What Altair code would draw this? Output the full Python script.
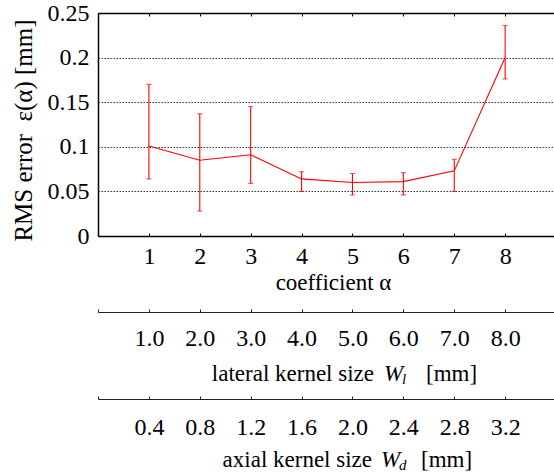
import altair as alt
import pandas as pd

# ---- data ----
alpha = [1, 2, 3, 4, 5, 6, 7, 8]
rms_error = [0.101, 0.085, 0.091, 0.064, 0.060, 0.061, 0.073, 0.200]
err_low = [0.064, 0.028, 0.059, 0.050, 0.046, 0.046, 0.050, 0.176]
err_high = [0.170, 0.137, 0.145, 0.072, 0.070, 0.071, 0.086, 0.236]
lateral_size = [1.0, 2.0, 3.0, 4.0, 5.0, 6.0, 7.0, 8.0]
axial_size = [0.4, 0.8, 1.2, 1.6, 2.0, 2.4, 2.8, 3.2]
y_tick_values = [0, 0.05, 0.1, 0.15, 0.2, 0.25]
lateral_ticks = [0.0] + lateral_size + [9.0]
axial_ticks = [0.0] + axial_size + [3.6]

x_title = "coefficient α"
y_title = "RMS error\u2002ε(α) [mm]"
lateral_title = ["lateral kernel size", "W", "l", "[mm]"]
axial_title = ["axial kernel size", "W", "d", "[mm]"]

FONT = "Liberation Serif"
RED = "#ff0000"
FS_LAB = 24
FS_TIT = 23
FS_YT = 25

X_MAX = 8.96
W, H = 456, 223

df = pd.DataFrame({
    "alpha": alpha, "rms": rms_error, "lo": err_low, "hi": err_high,
    "lateral": lateral_size, "axial": axial_size,
})
base = alt.Chart(df)

ys = alt.Scale(domain=[0, 0.25], nice=False, zero=False)


def xs(maxv):
    return alt.Scale(domain=[0, maxv], nice=False, zero=False)


y_axis = alt.Axis(
    values=y_tick_values, grid=True, gridColor="#000000", gridDash=[1.5, 1.5],
    gridWidth=0.8, gridOpacity=1, ticks=False, tickSize=0, domain=True,
    domainColor="#000000", domainWidth=1.5, labelPadding=9, labelFontSize=FS_LAB,
    labelFont=FONT, labelColor="#000000", format="~g", labelOverlap=False,
    title=y_title, titleFont=FONT, titleFontSize=FS_YT, titleFontWeight="normal",
    titleColor="#000000", titleAngle=270, titleX=-67, titleY=117,
    titleBaseline="alphabetic", titleAlign="center",
)

main_x_axis = alt.Axis(
    orient="bottom", values=alpha, domain=True, domainColor="#000000",
    domainWidth=1.5, ticks=False, tickSize=0, grid=False, labelPadding=27,
    labelBaseline="alphabetic", labelFont=FONT, labelFontSize=FS_LAB,
    labelColor="#000000", labelOverlap=False, labelFlush=False,
    title=x_title, titleFont=FONT, titleFontSize=FS_TIT, titleFontWeight="normal",
    titleColor="#000000", titleX=235, titleY=53, titleBaseline="alphabetic",
    titleAlign="center",
)

line = base.mark_line(color=RED, strokeWidth=1.1).encode(
    x=alt.X("alpha:Q", scale=xs(X_MAX), axis=main_x_axis),
    y=alt.Y("rms:Q", scale=ys, axis=y_axis),
)

bars = base.mark_rule(color=RED, strokeWidth=1.1).encode(
    x=alt.X("alpha:Q", scale=xs(X_MAX), axis=None),
    y=alt.Y("lo:Q", scale=ys),
    y2="hi:Q",
)
cap_lo = base.mark_tick(color=RED, orient="horizontal", size=5, thickness=1.1).encode(
    x=alt.X("alpha:Q", scale=xs(X_MAX), axis=None),
    y=alt.Y("lo:Q", scale=ys),
)
cap_hi = base.mark_tick(color=RED, orient="horizontal", size=5, thickness=1.1).encode(
    x=alt.X("alpha:Q", scale=xs(X_MAX), axis=None),
    y=alt.Y("hi:Q", scale=ys),
)


def axis_layer(field, maxv, axis):
    return base.mark_point(opacity=0).encode(
        x=alt.X(f"{field}:Q", scale=xs(maxv), axis=axis)
    )


# inner tick marks of the frame (bottom and top)
inner_bottom = axis_layer("alpha", X_MAX, alt.Axis(
    orient="bottom", offset=-3, values=alpha, domain=False, ticks=True,
    tickSize=3, tickColor="#000000", tickWidth=1, labels=False, grid=False,
    title=None))
top_domain = axis_layer("alpha", X_MAX, alt.Axis(
    orient="top", offset=0, domain=True, domainColor="#000000",
    domainWidth=1.5, ticks=False, tickSize=0, labels=False, grid=False,
    title=None))
inner_top = axis_layer("alpha", X_MAX, alt.Axis(
    orient="top", offset=-3, values=alpha, domain=False, ticks=True,
    tickSize=3, tickColor="#000000", tickWidth=1, labels=False, grid=False,
    title=None))


def extra_axis(field, maxv, offset, values, tickvals, pad):
    lab = axis_layer(field, maxv, alt.Axis(
        orient="bottom", offset=offset, values=values, format=".1f",
        domain=True, domainColor="#222222", domainWidth=1, ticks=False,
        tickSize=0, grid=False, labelPadding=pad, labelBaseline="alphabetic",
        labelFont=FONT, labelFontSize=FS_LAB, labelColor="#000000",
        labelOverlap=False, labelFlush=False, title=None))
    tk = axis_layer(field, maxv, alt.Axis(
        orient="bottom", offset=offset - 3, values=tickvals, domain=False,
        ticks=True, tickSize=3, tickColor="#222222", tickWidth=1,
        labels=False, grid=False, title=None))
    return [lab, tk]


lateral_layers = extra_axis("lateral", X_MAX, 76, lateral_size, lateral_ticks, 33)
axial_layers = extra_axis("axial", X_MAX * 0.4, 163, axial_size, axial_ticks, 35)


def txt(s, x, y, align="left", italic=False, size=FS_TIT):
    return alt.Chart(pd.DataFrame({"s": [s]})).mark_text(
        align=align, baseline="alphabetic", font=FONT, fontSize=size,
        fontStyle="italic" if italic else "normal", color="#000000",
    ).encode(text="s:N", x=alt.value(x), y=alt.value(y))


title_texts = [
    txt(lateral_title[0], 276, 368, align="right"),
    txt(lateral_title[1], 286, 368, italic=True),
    txt(lateral_title[2], 304, 371, italic=True, size=15),
    txt(lateral_title[3], 328, 368),
    txt(axial_title[0], 274, 454, align="right"),
    txt(axial_title[1], 283, 454, italic=True),
    txt(axial_title[2], 301, 457, italic=True, size=15),
    txt(axial_title[3], 323, 454),
]

chart = alt.layer(
    bars, cap_lo, cap_hi, line, inner_bottom, top_domain, inner_top,
    *lateral_layers, *axial_layers, *title_texts,
).resolve_scale(x="independent").properties(
    width=W, height=H,
    padding={"left": 98, "top": 13, "right": 0, "bottom": 238},
    autosize=alt.AutoSizeParams(type="none"),
    background="#ffffff",
).configure_view(stroke=None)

chart.save("out.html", embed_options={"renderer": "svg", "actions": False})
